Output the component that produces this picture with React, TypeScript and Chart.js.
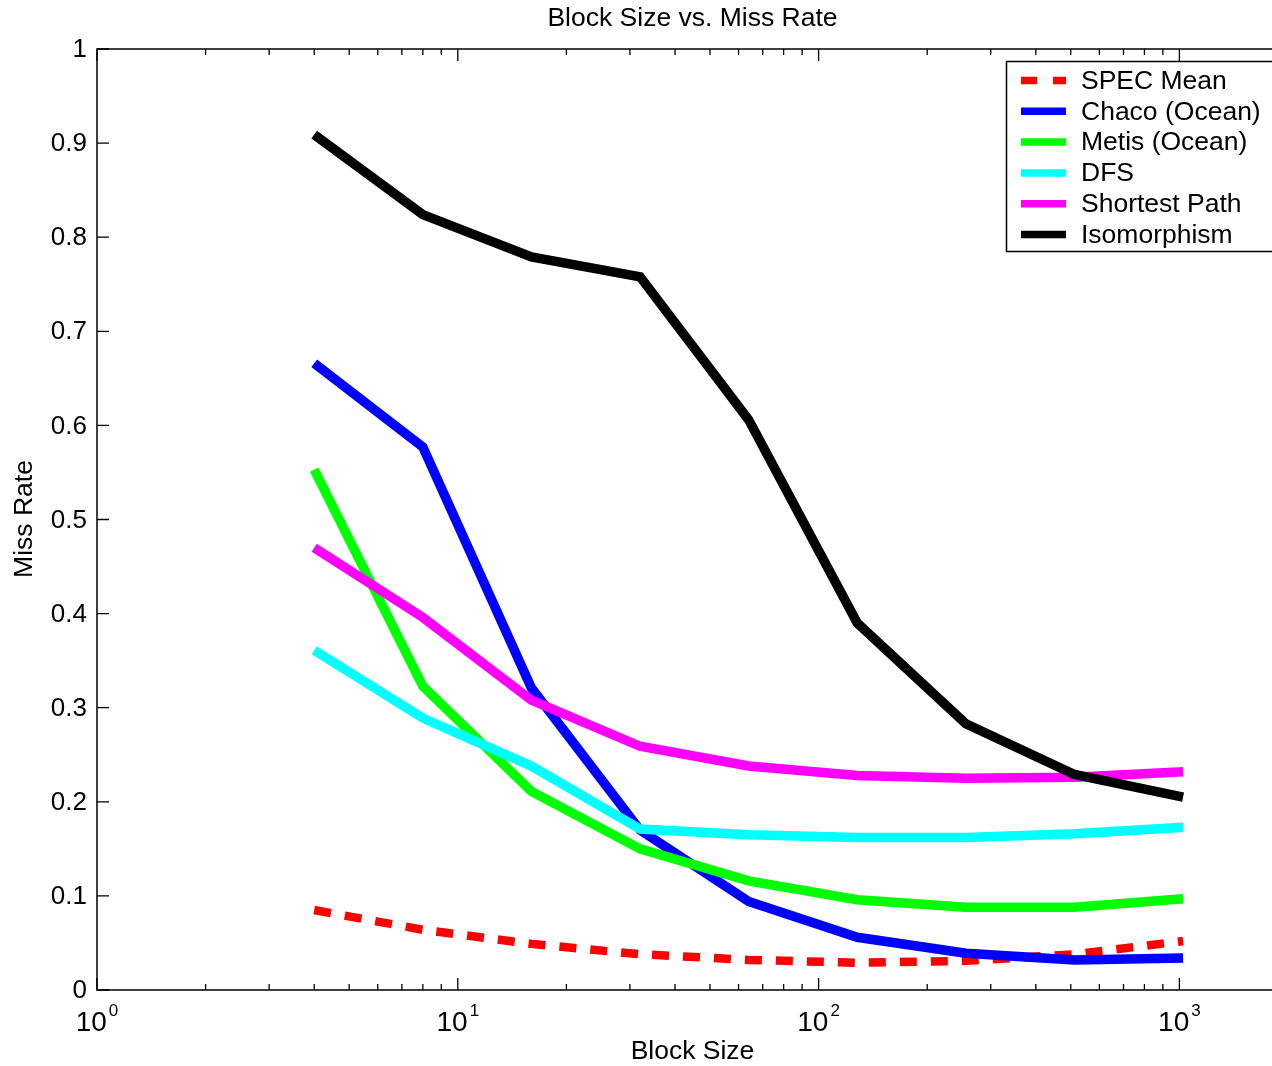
import React, { useEffect, useRef } from "react";
import { Chart, registerables } from "chart.js";

Chart.register(...registerables);

const blockSizes = [4, 8, 16, 32, 64, 128, 256, 512, 1024];
const specMean = [0.085, 0.064, 0.049, 0.038, 0.032, 0.029, 0.031, 0.038, 0.052];
const chaco = [0.666, 0.577, 0.321, 0.17, 0.094, 0.056, 0.039, 0.032, 0.034];
const metis = [0.553, 0.323, 0.211, 0.15, 0.116, 0.096, 0.088, 0.088, 0.097];
const dfs = [0.361, 0.289, 0.238, 0.171, 0.165, 0.162, 0.162, 0.166, 0.173];
const shortestPath = [0.47, 0.396, 0.308, 0.259, 0.238, 0.228, 0.225, 0.226, 0.232];
const isomorphism = [0.909, 0.824, 0.779, 0.758, 0.606, 0.39, 0.283, 0.229, 0.205];

const seriesNames = ["SPEC Mean", "Chaco (Ocean)", "Metis (Ocean)", "DFS", "Shortest Path", "Isomorphism"];
const seriesValues = [specMean, chaco, metis, dfs, shortestPath, isomorphism];
const seriesColors = ["#ff0000", "#0000ff", "#00ff00", "#00ffff", "#ff00ff", "#000000"];
const seriesDashed = [true, false, false, false, false, false];

const yTickValues = [0, 0.1, 0.2, 0.3, 0.4, 0.5, 0.6, 0.7, 0.8, 0.9, 1];
const yTickLabels = ["0", "0.1", "0.2", "0.3", "0.4", "0.5", "0.6", "0.7", "0.8", "0.9", "1"];
const xMajorTicks = [1, 10, 100, 1000];
const xTickExponents = ["0", "1", "2", "3"];

const titleText = "Block Size vs. Miss Rate";
const xAxisTitle = "Block Size";
const yAxisTitle = "Miss Rate";

const FONT = '"Liberation Sans", Arial, Helvetica, sans-serif';

const decorPlugin = {
  id: "matlabDecor",
  afterDatasetsDraw(chart: any) {
    const ctx = chart.ctx as CanvasRenderingContext2D;
    const { left, right, top, bottom } = chart.chartArea;
    const xs = chart.scales.x;
    const ys = chart.scales.y;
    ctx.save();

    // frame
    ctx.strokeStyle = "#000";
    ctx.lineWidth = 1.5;
    ctx.beginPath();
    ctx.rect(left, top, right - left, bottom - top);
    ctx.stroke();

    // x ticks (major + minor) on bottom and top, inward
    ctx.lineWidth = 1.3;
    const xMin = xs.min;
    const xMax = xs.max;
    ctx.beginPath();
    for (const m of xMajorTicks) {
      for (let k = 1; k <= 9; k++) {
        const v = m * k;
        if (v < xMin || v >= xMax) continue;
        const px = xs.getPixelForValue(v);
        const len = k === 1 ? 12 : 6;
        ctx.moveTo(px, bottom);
        ctx.lineTo(px, bottom - len);
        ctx.moveTo(px, top);
        ctx.lineTo(px, top + len);
      }
    }
    // y ticks left and right, inward
    for (const v of yTickValues) {
      const py = ys.getPixelForValue(v);
      ctx.moveTo(left, py);
      ctx.lineTo(left + 12, py);
      ctx.moveTo(right, py);
      ctx.lineTo(right - 12, py);
    }
    ctx.stroke();

    // y tick labels
    ctx.fillStyle = "#000";
    ctx.font = `26px ${FONT}`;
    ctx.textAlign = "right";
    ctx.textBaseline = "middle";
    yTickValues.forEach((v, i) => {
      ctx.fillText(yTickLabels[i], 87, ys.getPixelForValue(v) + 1);
    });

    // x tick labels: 10^n
    xMajorTicks.forEach((v, i) => {
      const px = xs.getPixelForValue(v);
      ctx.font = `28px ${FONT}`;
      const wBase = ctx.measureText("10").width;
      ctx.font = `17px ${FONT}`;
      const wExp = ctx.measureText(xTickExponents[i]).width;
      const start = px - (wBase + 2 + wExp) / 2;
      ctx.textAlign = "left";
      ctx.textBaseline = "alphabetic";
      ctx.font = `28px ${FONT}`;
      ctx.fillText("10", start, 1031);
      ctx.font = `17px ${FONT}`;
      ctx.fillText(xTickExponents[i], start + wBase + 2, 1016);
    });

    // title and axis labels
    ctx.font = `26.5px ${FONT}`;
    ctx.textAlign = "center";
    ctx.textBaseline = "middle";
    ctx.fillText(titleText, 692.5, 19);
    ctx.fillText(xAxisTitle, 692.5, 1052);
    ctx.save();
    ctx.translate(25, 519);
    ctx.rotate(-Math.PI / 2);
    ctx.fillText(yAxisTitle, 0, 0);
    ctx.restore();

    // legend
    const boxL = 1006.5;
    const boxT = 61.5;
    const boxB = 251.5;
    const boxR = right - 4;
    ctx.fillStyle = "#fff";
    ctx.fillRect(boxL, boxT, boxR - boxL, boxB - boxT);
    ctx.strokeStyle = "#000";
    ctx.lineWidth = 1.5;
    ctx.strokeRect(boxL, boxT, boxR - boxL, boxB - boxT);
    const row0 = 80.5;
    const rowStep = 30.8;
    seriesNames.forEach((name, i) => {
      const y = row0 + i * rowStep;
      ctx.strokeStyle = seriesColors[i];
      ctx.lineWidth = 7.5;
      ctx.lineCap = "butt";
      ctx.setLineDash(seriesDashed[i] ? [16, 16] : []);
      ctx.beginPath();
      ctx.moveTo(1021, y);
      ctx.lineTo(1066, y);
      ctx.stroke();
      ctx.setLineDash([]);
      ctx.fillStyle = "#000";
      ctx.font = `26.5px ${FONT}`;
      ctx.textAlign = "left";
      ctx.textBaseline = "middle";
      ctx.fillText(name, 1081, y + 1);
    });

    ctx.restore();
  },
};

export default function App() {
  const canvasRef = useRef<HTMLCanvasElement | null>(null);

  useEffect(() => {
    if (!canvasRef.current) return;
    const datasets = seriesNames.map((name, i) => ({
      label: name,
      data: blockSizes.map((x, j) => ({ x, y: seriesValues[i][j] })),
      borderColor: seriesColors[i],
      backgroundColor: seriesColors[i],
      borderWidth: seriesDashed[i] ? 8.5 : 9.5,
      borderDash: seriesDashed[i] ? [17, 14] : [],
      borderCapStyle: "butt" as const,
      borderJoinStyle: "miter" as const,
      pointRadius: 0,
      pointHoverRadius: 0,
      tension: 0,
      fill: false,
      order: seriesNames.length - i,
    }));
    const chart = new Chart(canvasRef.current, {
      type: "line",
      data: { datasets },
      options: {
        animation: false,
        responsive: false,
        maintainAspectRatio: false,
        devicePixelRatio: 1,
        layout: { padding: { left: 97, top: 49, right: 12, bottom: 76 } },
        plugins: {
          legend: { display: false },
          title: { display: false },
          tooltip: { enabled: false },
        },
        scales: {
          x: { type: "logarithmic", min: 1, max: 2000, display: false },
          y: { type: "linear", min: 0, max: 1, display: false },
        },
      },
      plugins: [decorPlugin],
    });
    return () => chart.destroy();
  }, []);

  return (
    <div
      style={{
        position: "fixed",
        left: 0,
        top: 0,
        width: 1272,
        height: 1066,
        overflow: "hidden",
        background: "#fff",
      }}
    >
      <canvas ref={canvasRef} width={1300} height={1066} style={{ display: "block" }} />
    </div>
  );
}
